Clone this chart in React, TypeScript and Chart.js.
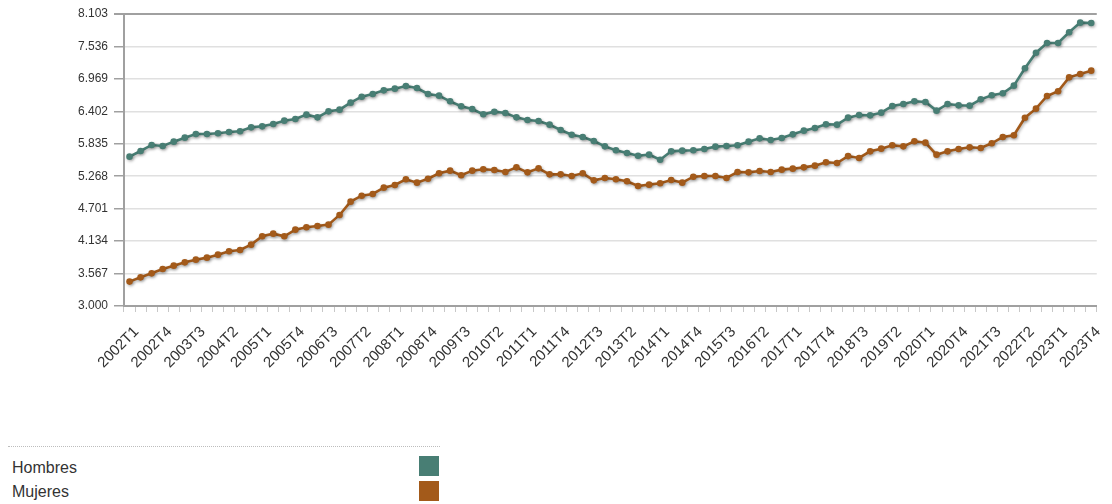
import React, { useEffect, useRef } from "react";
import { Chart, registerables } from "chart.js";

Chart.register(...registerables);

const YEARS = [2002, 2003, 2004, 2005, 2006, 2007, 2008, 2009, 2010, 2011, 2012, 2013, 2014, 2015, 2016, 2017, 2018, 2019, 2020, 2021, 2022, 2023];
const QUARTERS = ["T1", "T2", "T3", "T4"];
const LABELS: string[] = [];
YEARS.forEach((y) => QUARTERS.forEach((q) => LABELS.push(`${y}${q}`)));

const HOMBRES = [
  5610, 5709, 5814, 5796, 5872, 5942, 6006, 6006, 6018, 6041, 6053, 6122, 6140, 6181, 6239, 6268, 6344, 6297, 6402, 6431, 6554, 6658,
  6705, 6769, 6798, 6845, 6810, 6705, 6676, 6577, 6490, 6443, 6350, 6396, 6373, 6297, 6251, 6233, 6169, 6076, 5994, 5954, 5884, 5790,
  5721, 5674, 5627, 5645, 5557, 5703, 5715, 5721, 5744, 5785, 5796, 5808, 5872, 5930, 5901, 5936, 6000, 6064, 6111, 6175, 6169, 6292,
  6338, 6332, 6379, 6495, 6530, 6577, 6565, 6414, 6530, 6507, 6501, 6612, 6682, 6717, 6851, 7154, 7427, 7596, 7596, 7783, 7952, 7946,
];

const MUJERES = [
  3426, 3501, 3571, 3647, 3705, 3763, 3810, 3845, 3897, 3956, 3979, 4072, 4218, 4264, 4218, 4334, 4375, 4398, 4422, 4591, 4824, 4928,
  4958, 5068, 5115, 5214, 5156, 5225, 5319, 5365, 5284, 5365, 5389, 5377, 5342, 5423, 5336, 5406, 5301, 5301, 5272, 5319, 5196, 5237,
  5214, 5179, 5097, 5121, 5144, 5202, 5156, 5260, 5272, 5272, 5237, 5342, 5336, 5359, 5342, 5383, 5400, 5423, 5453, 5511, 5499, 5620,
  5587, 5703, 5750, 5808, 5790, 5878, 5855, 5645, 5703, 5744, 5773, 5761, 5843, 5954, 5983, 6291, 6449, 6670, 6752, 6996, 7055, 7113,
];

const SERIES_NAMES = ["Hombres", "Mujeres"];
const COLORS = ["#487e74", "#a35a1a"];
const Y_MIN = 3000;
const Y_MAX = 8103;
const Y_STEP = 567;
const LABEL_EVERY = 3;

const FONT = '"Liberation Sans", Arial, sans-serif';

function fmt(v: number): string {
  const n = Math.round(v);
  const th = Math.floor(n / 1000);
  const rest = String(n % 1000).padStart(3, "0");
  return th > 0 ? `${th}.${rest}` : String(n);
}

const shadowPlugin = {
  id: "lineShadow",
  beforeDatasetsDraw(chart: any) {
    const c = chart.ctx;
    c.save();
    c.shadowColor = "rgba(0,0,0,0.3)";
    c.shadowBlur = 3;
    c.shadowOffsetX = 1;
    c.shadowOffsetY = 1.5;
  },
  afterDatasetsDraw(chart: any) {
    chart.ctx.restore();
  },
};

export default function App() {
  const ref = useRef<HTMLCanvasElement | null>(null);

  useEffect(() => {
    if (!ref.current) return;
    const datasets = [HOMBRES, MUJERES].map((d, i) => ({
      label: SERIES_NAMES[i],
      data: d,
      borderColor: COLORS[i],
      backgroundColor: COLORS[i],
      pointBackgroundColor: COLORS[i],
      pointBorderColor: COLORS[i],
      pointRadius: 3.3,
      pointBorderWidth: 0,
      borderWidth: 2.6,
      tension: 0,
      fill: false,
    }));
    const chart = new Chart(ref.current, {
      type: "line",
      data: { labels: LABELS, datasets },
      plugins: [shadowPlugin],
      options: {
        responsive: false,
        animation: false,
        layout: { padding: { top: 14, left: 0, right: 0, bottom: 0 } },
        plugins: { legend: { display: false }, tooltip: { enabled: false } },
        scales: {
          x: {
            offset: true,
            grid: {
              offset: true,
              drawOnChartArea: false,
              drawTicks: true,
              tickLength: 6,
              color: "#c8c8c8",
              lineWidth: 1,
            },
            border: { color: "#a0a0a0", width: 2 },
            ticks: {
              autoSkip: false,
              maxRotation: 45,
              minRotation: 45,
              padding: 11,
              labelOffset: 7,
              font: { family: FONT, size: 15 },
              color: "#333",
              callback: (_v: any, i: number) => (i % LABEL_EVERY === 0 ? LABELS[i] : ""),
            },
            afterFit: (s: any) => {
              s.height = 94;
            },
          },
          y: {
            min: Y_MIN,
            max: Y_MAX,
            ticks: {
              stepSize: Y_STEP,
              padding: 6,
              font: { family: FONT, size: 12 },
              color: "#333",
              callback: (v: any) => fmt(Number(v)),
            },
            grid: {
              color: (ctx: any) => (ctx.tick && ctx.tick.value === Y_MAX ? "#a0a0a0" : "#e0e0e0"),
              lineWidth: (ctx: any) => (ctx.tick && ctx.tick.value === Y_MAX ? 2 : 1.5),
              tickColor: "#a0a0a0",
              tickLength: 10,
            },
            border: { color: "#a0a0a0", width: 2 },
            afterFit: (s: any) => {
              s.width = 124;
            },
          },
        },
      },
    } as any);
    return () => chart.destroy();
  }, []);

  const rowText = (top: number): React.CSSProperties => ({
    position: "absolute",
    left: 12,
    top,
    lineHeight: "20px",
    fontSize: 16,
    fontFamily: FONT,
    color: "#333",
  });
  const square = (top: number, color: string): React.CSSProperties => ({
    position: "absolute",
    left: 419,
    top,
    width: 20,
    height: 20,
    background: color,
  });

  return (
    <div style={{ position: "absolute", left: 0, top: 0, width: 1112, height: 504, overflow: "hidden", background: "#fff" }}>
      <canvas ref={ref} width={1115} height={400} style={{ position: "absolute", left: 0, top: 0, width: 1115, height: 400 }} />
      <div style={{ position: "absolute", left: 8, top: 446, width: 432, borderTop: "1px dotted #bdbdbd" }} />
      <div style={rowText(458)}>{SERIES_NAMES[0]}</div>
      <div style={square(456, COLORS[0])} />
      <div style={rowText(482)}>{SERIES_NAMES[1]}</div>
      <div style={square(480.5, COLORS[1])} />
    </div>
  );
}
